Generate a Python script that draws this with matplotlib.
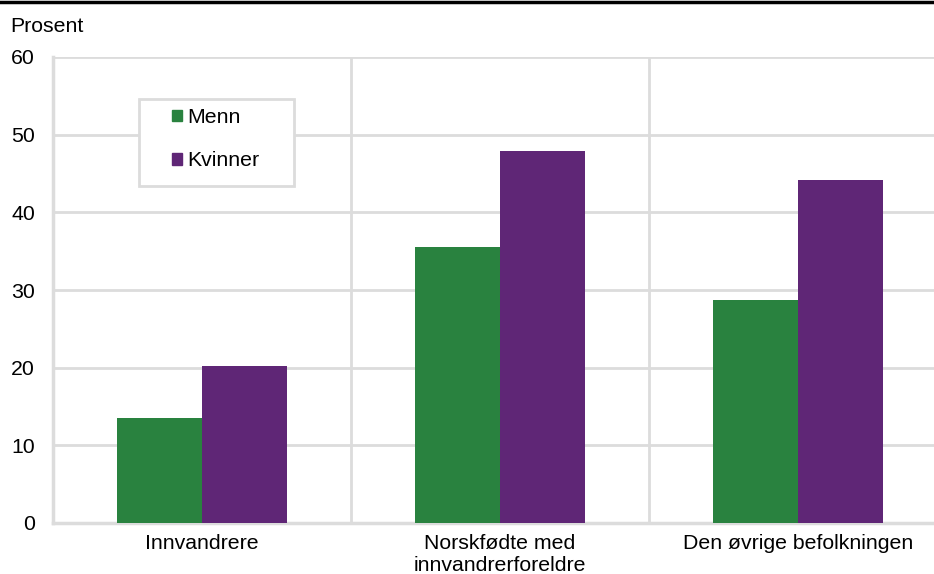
## bar chart: share (prosent) for men and women by population group
import numpy as np
from matplotlib import pyplot as plt
from matplotlib.patches import Patch, Rectangle

plt.rcParams['font.family'] = ['Liberation Sans', 'DejaVu Sans']

## data
groups = ["Innvandrere", "Norskfødte med\ninnvandrerforeldre", "Den øvrige befolkningen"]
menn = [13.5, 35.6, 28.7]
kvinner = [20.2, 47.9, 44.1]
series = ["Menn", "Kvinner"]
yticks = [0, 10, 20, 30, 40, 50, 60]

green = '#29823f'
purple = '#5f2676'
grid = '#dcdcdc'
fs = 15.3

W, H = 934, 574
fig = plt.figure(figsize=(W/100, H/100), dpi=100)
## plot area runs past the right edge of the picture, as in the reference
ax = fig.add_axes([53/W, 1-523/H, 894/W, 466/H])

x = np.arange(len(groups))
bw = 0.285
ax.bar(x-bw/2, menn, bw, color=green, zorder=3)
ax.bar(x+bw/2, kvinner, bw, color=purple, zorder=3)

ax.set_xlim(-0.5, len(groups)-0.5)
ax.set_ylim(0, 60)
ax.set_yticks(yticks)
ax.set_xticks(x)
ax.set_xticklabels(groups, fontsize=fs, linespacing=1.2)
ax.tick_params(axis='y', labelsize=fs, length=0, pad=13)
ax.tick_params(axis='x', length=0, pad=8)

## horizontal gridlines and vertical separators between groups
for y in yticks[1:]:
    ax.axhline(y, color=grid, lw=2, zorder=1)
for sep in x[:-1]+0.5:
    ax.axvline(sep, color=grid, lw=2, zorder=1)
for s in ['top', 'right']:
    ax.spines[s].set_visible(False)
for s in ['left', 'bottom']:
    ax.spines[s].set_color(grid)
    ax.spines[s].set_linewidth(2.5)

## legend in a grey box
fig.patches.append(Rectangle((139/W, 1-186/H), 155/W, 87/H, transform=fig.transFigure,
                             facecolor='white', edgecolor=grid, lw=2, zorder=4))
handles = [Patch(color=green), Patch(color=purple)]
leg = fig.legend(handles, series, loc='upper left', bbox_to_anchor=(172/W, 1-108/H),
                 frameon=False, fontsize=fs, borderpad=0, borderaxespad=0,
                 handlelength=0.47, handleheight=0.47, handletextpad=0.25, labelspacing=1.15)
leg.set_zorder(5)

fig.text(10/W, 1-26/H, "Prosent", fontsize=fs, va='center', ha='left')
## black rule at the top
fig.add_artist(plt.Line2D([0, 1], [1-1.5/H, 1-1.5/H], color='black', lw=2.5,
                          transform=fig.transFigure))

plt.savefig('out.png', dpi=100)
